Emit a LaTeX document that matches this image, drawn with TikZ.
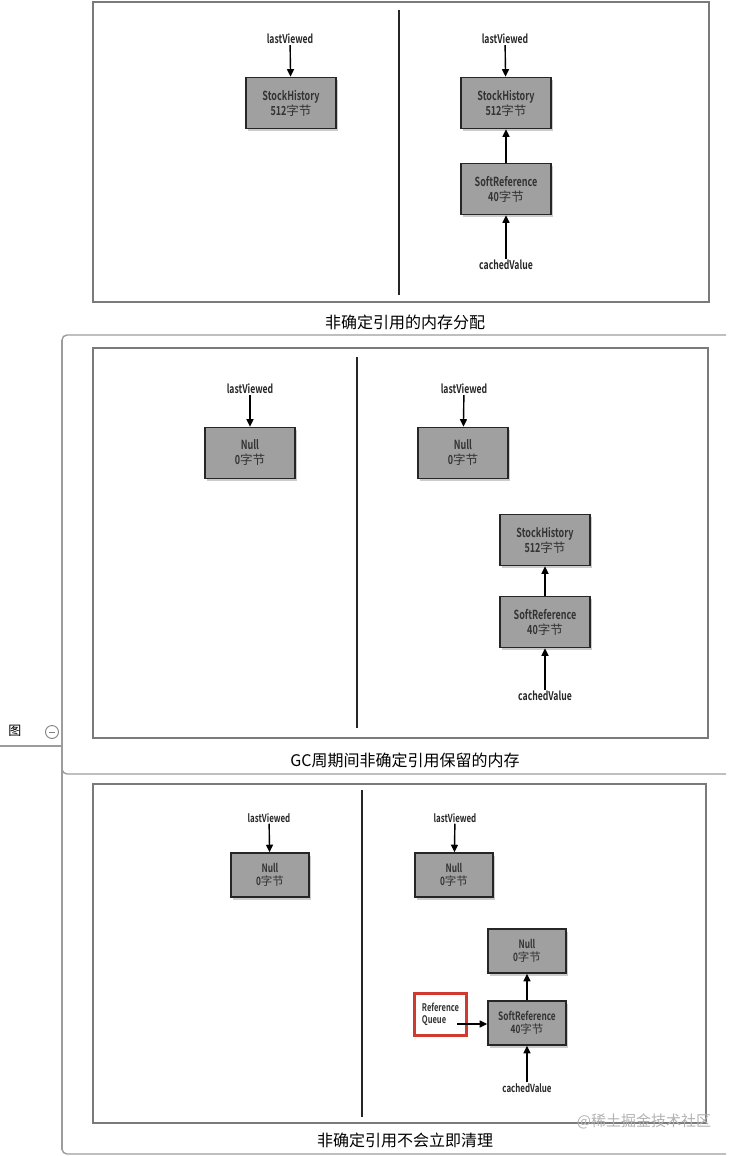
\documentclass[tikz,border=0pt]{standalone}
\usepackage{fontspec}
\setmainfont{Noto Sans CJK SC}
\newfontfamily\narrowfont[FakeStretch=0.72,UprightFont=* Bold]{Noto Sans CJK SC}
\usetikzlibrary{positioning,shadows,arrows.meta}
\definecolor{boxgray}{HTML}{A0A0A0}
\definecolor{framegray}{HTML}{7A7A7A}
\definecolor{linegray}{HTML}{9C9C9C}
\definecolor{queuered}{HTML}{D03A30}
\newcommand{\nw}[1]{{\narrowfont #1}}

\begin{document}
\begin{tikzpicture}[x=1pt,y=-1pt,>={Triangle[length=7.5pt,width=7pt]},
    obj/.style={draw=black!85,line width=1.6pt,fill=boxgray,minimum width=90pt,minimum height=51pt,
      align=center,inner sep=1pt,font=\fontsize{12.5}{15}\selectfont,text=black!80,
      drop shadow={shadow xshift=1.5pt,shadow yshift=-2.5pt,opacity=.4}},
    small obj/.style={obj,minimum width=78pt,minimum height=44pt,font=\fontsize{11.5}{13.5}\selectfont},
    ptr/.style={font=\fontsize{12}{13}\selectfont\narrowfont,text=black!85,inner sep=1pt},
    small ptr/.style={ptr,font=\fontsize{11}{12}\selectfont\narrowfont},
    ref/.style={->,line width=1.4pt},
    panel/.style={draw=framegray,line width=1.4pt},
    divider/.style={draw=black!85,line width=1.8pt},
    caption/.style={font=\fontsize{16}{18}\selectfont}]

  \useasboundingbox (0,0) rectangle (741,1156);

  % mind map bracket
  \draw[linegray,line width=1.4pt] (62,340) -- (62,1150);
  \draw[linegray,line width=1.4pt,rounded corners=5pt] (726,335) -- (62,335) -- (62,774) -- (726,774);
  \draw[linegray,line width=1.4pt,rounded corners=5pt] (62,774) -- (62,1154) -- (726,1154);
  \draw[linegray,line width=1.4pt] (0,746) -- (62,746);
  \node[font=\fontsize{13}{15}\selectfont] (fig) at (15,731) {图};
  \node[circle,draw=gray,line width=0.9pt,minimum size=13pt,inner sep=0pt] (fold) at (52,732) {};
  \draw[gray,line width=0.9pt] ([xshift=-3pt]fold.center) -- ([xshift=3pt]fold.center);

  % panel 1
  \draw[panel] (93,2) rectangle (709,302);
  \draw[divider] (399,10) -- (399,295);
  \node[obj] (sh1) at (291,103) {\nw{StockHistory}\\\nw{512}字节};
  \node[ptr] (lv1) at (290,39) {lastViewed};
  \draw[ref] (lv1) -- (sh1);
  \node[obj] (sh2) at (506,103) {\nw{StockHistory}\\\nw{512}字节};
  \node[obj] (sr1) at (506,189) {\nw{SoftReference}\\\nw{40}字节};
  \node[ptr] (lv2) at (505,39) {lastViewed};
  \node[ptr] (cv1) at (506,265) {cachedValue};
  \draw[ref] (lv2) -- (sh2);
  \draw[ref] (sr1) -- (sh2);
  \draw[ref] (cv1) -- (sr1);
  \node[caption] (cap1) at (405,322) {非确定引用的内存分配};

  % panel 2
  \draw[panel] (93,348) rectangle (708,738);
  \draw[divider] (357,357) -- (357,728);
  \node[obj] (nl1) at (250,453) {\nw{Null}\\\nw{0}字节};
  \node[ptr] (lv3) at (250,389) {lastViewed};
  \draw[ref] (lv3) -- (nl1);
  \node[obj] (nl2) at (463,453) {\nw{Null}\\\nw{0}字节};
  \node[ptr] (lv4) at (464,389) {lastViewed};
  \draw[ref] (lv4) -- (nl2);
  \node[obj] (sh3) at (545,540) {\nw{StockHistory}\\\nw{512}字节};
  \node[obj] (sr2) at (545,622) {\nw{SoftReference}\\\nw{40}字节};
  \node[ptr] (cv2) at (545,696) {cachedValue};
  \draw[ref] (sr2) -- (sh3);
  \draw[ref] (cv2) -- (sr2);
  \node[caption] (cap2) at (405,760) {GC周期间非确定引用保留的内存};

  % panel 3
  \draw[panel] (93,784) rectangle (706,1123);
  \draw[divider] (362,790) -- (362,1117);
  \node[small obj] (nl3) at (270,875) {\nw{Null}\\\nw{0}字节};
  \node[small ptr] (lv5) at (269,818) {lastViewed};
  \draw[ref] (lv5) -- (nl3);
  \node[small obj] (nl4) at (454,875) {\nw{Null}\\\nw{0}字节};
  \node[small ptr] (lv6) at (455,818) {lastViewed};
  \draw[ref] (lv6) -- (nl4);
  \node[small obj] (nl5) at (527,951) {\nw{Null}\\\nw{0}字节};
  \node[small obj] (sr3) at (527,1023) {\nw{SoftReference}\\\nw{40}字节};
  \node[small ptr] (cv3) at (527,1088) {cachedValue};
  \draw[ref] (sr3) -- (nl5);
  \draw[ref] (cv3) -- (sr3);
  \node[draw=queuered,line width=2.2pt,minimum width=52pt,minimum height=42pt,align=left,
        inner sep=2pt,text=black!80,font=\fontsize{10.5}{12.5}\selectfont\narrowfont] (queue) at (440.5,1014.5)
        {Reference\\Queue\hspace{10pt}};
  \coordinate (qout) at (457,1024);
  \draw[ref] (qout) -- (sr3.west |- qout);
  \node[caption] (cap3) at (405,1140) {非确定引用不会立即清理};
  \node[font=\fontsize{15}{18}\selectfont,text=black!30] (mark) at (644,1121) {@稀土掘金技术社区};
\end{tikzpicture}
\end{document}
